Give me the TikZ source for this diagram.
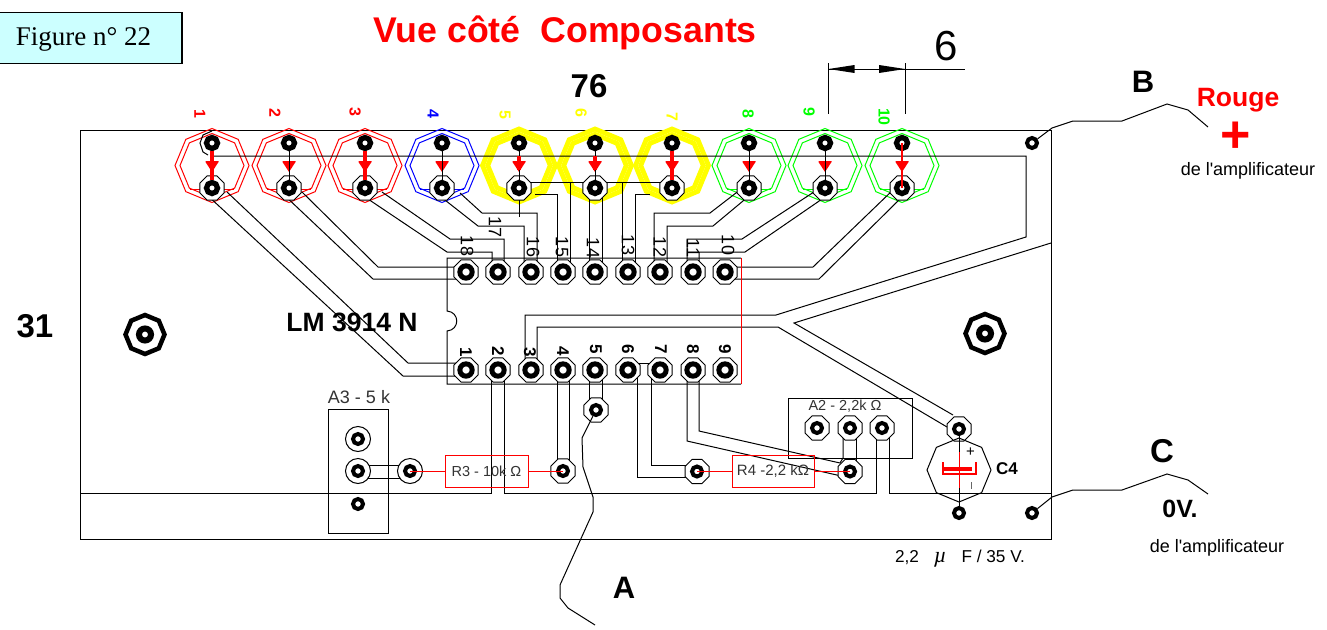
\documentclass[tikz,border=0pt]{standalone}
\usepackage{fontspec}
\setmainfont{Liberation Sans}
\newfontfamily\timesfont{Liberation Serif}
\newfontfamily\ampfont{Liberation Sans}
\usetikzlibrary{shapes.geometric}
\newcommand{\px}[1]{\fontsize{#1}{#1}\selectfont}
\definecolor{figcyan}{RGB}{204,255,255}
\definecolor{ledgreen}{RGB}{0,255,0}
\definecolor{ledyellow}{RGB}{255,255,0}
\tikzset{
    ledring/.style={regular polygon,regular polygon sides=8,shape border rotate=22.5,inner sep=0},
    halo/.style={regular polygon,regular polygon sides=8,draw,fill=white,inner sep=0,minimum size=26,line width=1},
    roundhalo/.style={circle,draw,fill=white,inner sep=0,minimum size=25,line width=1},
    pad/.style={circle,draw,fill=white,inner sep=0,minimum size=12.3,line width=5},
    ledpad/.style={pad,minimum size=11,line width=5.3},
    smallpad/.style={circle,draw,fill=white,inner sep=0,minimum size=10,line width=4},
    pinnum/.style={rotate=-90,inner sep=0},
    resbox/.style={draw=red,line width=1,inner sep=0,text=black!80},
}
\begin{document}
\begin{tikzpicture}[x=1pt,y=-1pt,line width=1]
    \useasboundingbox (0,0) rectangle (1327,629);
    \fill[white] (0,0) rectangle (1327,629);

    % title and frame
    \node[draw,line width=1.2,fill=figcyan,minimum width=184,minimum height=51,inner sep=0] (figbox) at (90,38) {};
    \node[font=\timesfont\px{27}] (figname) at (83.5,39) {Figure n° 22};
    \node[font=\bfseries\px{35.7},text=red] (title) at (565,33) {Vue côté~~Composants};
    \node[font=\bfseries\px{33}] (width) at (589,86) {76};
    \node[font=\bfseries\px{33}] (height) at (35,326) {31};
    \draw (80,130) rectangle (1051,539.5);

    % dimension
    \node[font=\px{42}] (pitch) at (946,46) {6};
    \coordinate (dimA) at (828.5,69);
    \coordinate (dimB) at (905,69);
    \draw (dimA |- 0,63) -- (dimA |- 0,114);
    \draw (dimB |- 0,63) -- (dimB |- 0,114);
    \draw (dimA) -- (965,69);
    \fill (dimA) -- ++(26,-4) -- ++(0,8) -- cycle;
    \fill (dimB) -- ++(-26,-4) -- ++(0,8) -- cycle;

    % leds
    \foreach \n/\xx/\col/\rw/\so/\si in {1/212/red/1/74/64,2/289/red/1/74/64,3/365/red/1/74/64,4/442/blue/1/74/64,
        5/519/ledyellow/4.8/73/62.5,6/595/ledyellow/4.8/73/62.5,7/672/ledyellow/4.8/73/62.5,
        8/749/ledgreen/1/74/64,9/825/ledgreen/1/74/64,10/902/ledgreen/1/74/64}
    {
        \node[ledring,draw=\col,line width=\rw,minimum size=\so] (ledout\n) at (\xx,165.5) {};
        \node[ledring,draw=\col,line width=\rw,minimum size=\si] (ledin\n) at (\xx,165.5) {};
        \draw[\col] (\xx-22,189.5) -- (\xx+22,189.5);
        \coordinate (ledtop\n) at (\xx,143);
        \coordinate (ledbot\n) at (\xx,188);
    }
    \foreach \n/\xx/\yy/\col in {1/200/114/red,2/275/113/red,3/355/112/red,4/433/114/blue,5/505/115/ledyellow,
        6/581/113/ledyellow,7/672/117/ledyellow,8/748/114/ledgreen,9/809/112/ledgreen,10/884/117/ledgreen}
        \node[pinnum,font=\bfseries\px{16},text=\col] (ledlabel\n) at (\xx,\yy) {\n};

    % tracks from the leds to the top row
    \draw (212,156) -- (1026,156) -- (1026,237) -- (776,315) -- (525,315) -- (525,370);
    \draw (537,370) -- (537,327) -- (778,327) -- (947,427);
    \draw (1051,243) -- (794,323) -- (953,415);
    \draw (207,195) -- (403,376) -- (465,376);
    \draw (227,192) -- (408,363) -- (465,363);
    \draw (282,193) -- (373,279) -- (465,279);
    \draw (302,192) -- (378,267) -- (465,267);
    \draw (359,193) -- (447,252) -- (492,252) -- (492,272);
    \draw (382,192) -- (450,239) -- (504,239) -- (504,272);
    \draw (436,193) -- (478,226) -- (524,226) -- (524,272);
    \draw (460,193) -- (482,213) -- (537,213) -- (537,272);
    \draw (519,188) -- (519,217);
    \draw (530,182) -- (662,182);
    \draw (535,194) -- (557,194) -- (557,272);
    \draw (570,182) -- (570,272);
    \draw (589,188) -- (589,272);
    \draw (602,188) -- (602,272);
    \draw (622,182) -- (622,272);
    \draw (650,194) -- (635,194) -- (635,272);
    \draw (654,272) -- (654,213) -- (710,213) -- (745,186);
    \draw (667,272) -- (667,226) -- (713,226) -- (749,196);
    \draw (687,272) -- (687,239) -- (742,239) -- (820,188);
    \draw (699,272) -- (699,252) -- (745,252) -- (825,197);
    \draw (725,267) -- (813,267) -- (895,188);
    \draw (725,279) -- (819,279) -- (902,197);
    \draw[red] (741,258) -- (741,384);

    % chip
    \draw (741,258) -- (447,258) -- (447,311) .. controls (460,312) and (460,330) .. (447,331) -- (447,384) -- (741,384);
    \node[font=\bfseries\px{26.5}] (chipname) at (352,322) {LM 3914 N};
    \foreach \n/\xx/\yy in {18/467/246,17/495/227,16/533/247,15/562/247,14/593/248,13/628/245,12/660/247,11/693/248,10/728/245}
        \node[pinnum,font=\px{18}] (topnum\n) at (\xx,\yy) {\n};
    \foreach \n/\xx/\yy in {1/466/352,2/498/351,3/530/352,4/563/351,5/596/349,6/628/349,7/661/349,8/693/349,9/725/349}
        \node[pinnum,font=\bfseries\px{17}] (botnum\n) at (\xx,\yy) {\n};

    % tracks under the chip
    \draw (80,493) -- (491,493) -- (491,370);
    \draw (504,370) -- (504,493) -- (876,493) -- (876,428);
    \draw (889,428) -- (889,493) -- (1051,493);
    \draw (557,370) -- (557,471);
    \draw (569,370) -- (569,471);
    \draw (589,370) -- (589,410);
    \draw (602,370) -- (602,410);
    \draw (628,363) -- (660,363);
    \draw (637,370) -- (637,477) -- (697,477);
    \draw (651,370) -- (651,465) -- (697,465);
    \draw (687,370) -- (687,441) -- (850,478);
    \draw (699,370) -- (699,431) -- (840,463) -- (843,458) -- (843,428);
    \draw (856,428) -- (856,472);
    \draw (358,465) -- (410,465);
    \draw (358,478) -- (410,478);

    % boxes
    \draw (328,409) rectangle (388,533);
    \node[font=\px{18},text=black!80] (a3name) at (359,397) {A3 - 5 k};
    \draw (788,398) rectangle (912,458);
    \node[font=\px{14.5},text=black!80] (a2name) at (845,406) {A2 - 2,2k Ω};
    \node[resbox,minimum width=83,minimum height=32,font=\px{14.5}] (r3box) at (486.5,471) {R3 - 10k Ω};
    \node[resbox,minimum width=82,minimum height=32,font=\px{15}] (r4box) at (773,471.5) {R4 -2,2 kΩ};

    % pads
    \foreach \n/\xx in {1/212,2/289,3/365,4/442,5/519,6/595,7/672,8/749,9/825,10/902}
    {
        \node[halo] (ledhalo\n) at (ledbot\n) {};
        \node[ledpad] (padtop\n) at (ledtop\n) {};
        \node[ledpad] (padbot\n) at (ledbot\n) {};
    }
    \foreach \n/\xx in {18/466,17/498,16/531,15/563,14/595,13/628,12/660,11/693,10/725}
    {
        \node[halo] (halotop\n) at (\xx,272) {};
        \node[pad] (chip\n) at (\xx,272) {};
    }
    \foreach \n/\xx in {1/466,2/498,3/531,4/563,5/595,6/628,7/660,8/693,9/725}
    {
        \node[halo] (halobot\n) at (\xx,370) {};
        \node[pad] (chipb\n) at (\xx,370) {};
    }
    \foreach \nam/\xx/\yy in {a2a/817/428,a2b/850/428,a2c/882/428,r3b/563/471,r4a/697/471.5,r4b/850/471.5,wirea/596/410,capp/959/429}
    {
        \node[halo] (halo\nam) at (\xx,\yy) {};
        \node[smallpad] (pad\nam) at (\xx,\yy) {};
    }
    \foreach \nam/\xx/\yy in {a3a/358/439,a3b/358/471,r3a/410/471}
    {
        \node[roundhalo] (halo\nam) at (\xx,\yy) {};
        \node[smallpad] (pad\nam) at (\xx,\yy) {};
    }
    \node[smallpad] (pada3c) at (358,504) {};
    \node[smallpad] (padcapm) at (959,513) {};
    \node[smallpad] (padB) at (1032,143) {};
    \node[smallpad] (padC) at (1032,513) {};

    % led marks
    \foreach \xx in {212,289,365,442,519,595,672,749,825,902}
    {
        \fill[red] (\xx-6.5,161) -- (\xx+6.5,161) -- (\xx+6.5,162) -- (\xx,172) -- (\xx-6.5,162) -- cycle;
    }
    \foreach \n in {2,4,5,6,8,9}
        \draw (padtop\n) -- (padbot\n);
    \foreach \n in {1,3,7}
        \draw[red,line width=4] (padtop\n) -- (padbot\n);
    \foreach \xx in {519,595}
        \draw[red,line width=4] (\xx,156) -- (\xx,170);
    \draw[red,line width=1.5] (902,143) -- (902,188);
    \draw (212,131) -- (203,135) -- (200,143) -- (203,152) -- (208,155);

    % resistors
    \draw[red] (r3box) -- (padr3a.center);
    \draw[red] (r3box) -- (padr3b.center);
    \draw[red] (r4box) -- (padr4a.center);
    \draw[red] (r4box) -- (padr4b.center);

    % capacitor
    \node[ledring,draw,minimum size=64] (c4) at (959,470) {};
    \draw (padcapp) -- (padcapm);
    \draw[red] (959,452) -- (959,488);
    \draw[red,line width=2.5] (943,462) -- (943,474) -- (976,474) -- (976,462);
    \draw[red,line width=4] (944,468.5) -- (972,468.5);
    \node[font=\px{15}] (capplus) at (970.5,452) {+};
    \draw[black!60] (971,482) -- (971,489);
    \node[font=\bfseries\px{17}] (capname) at (1007,469) {C4};
    \node[font=\px{17.2}] (capval) at (960,559) {2,2\hspace{15pt}{\timesfont\itshape\px{22}µ}\hspace{15pt}F / 35 V.};

    % mounting holes
    \foreach \nam/\xx/\yy in {holeL/145/334.5,holeR/985/333.5}
    {
        \node[ledring,draw,line width=4.5,minimum size=39] (\nam) at (\xx,\yy) {};
        \node[circle,draw,line width=6,inner sep=0,minimum size=12] (\nam in) at (\xx,\yy) {};
    }

    % wires
    \draw (padB) -- (1052,128) -- (1073,121) -- (1122,121) -- (1167,104) -- (1188,110) -- (1208,127);
    \draw (padC) -- (1052,497) -- (1073,490) -- (1122,490) -- (1167,474) -- (1188,480) -- (1208,494);
    \draw (padwirea) -- (582,438) -- (583,467) -- (593,497) -- (593,512) -- (560,585) -- (560,598) -- (568,608) -- (595,625);

    % wire labels
    \node[font=\bfseries\px{31}] (labA) at (624,588) {A};
    \node[font=\bfseries\px{31}] (labB) at (1143,82) {B};
    \node[font=\bfseries\px{33}] (labC) at (1162,451) {C};
    \node[font=\bfseries\px{26.5},text=red] (rouge) at (1238,100) {Rouge};
    \node[font=\bfseries\px{52},text=red] (plus) at (1236,137) {+};
    \node[font=\ampfont\px{18}] (ampB) at (1248,170.5) {de l'amplificateur};
    \node[font=\bfseries\px{25}] (zero) at (1180,509) {0V.};
    \node[font=\ampfont\px{18}] (ampC) at (1217,548) {de l'amplificateur};
\end{tikzpicture}
\end{document}
